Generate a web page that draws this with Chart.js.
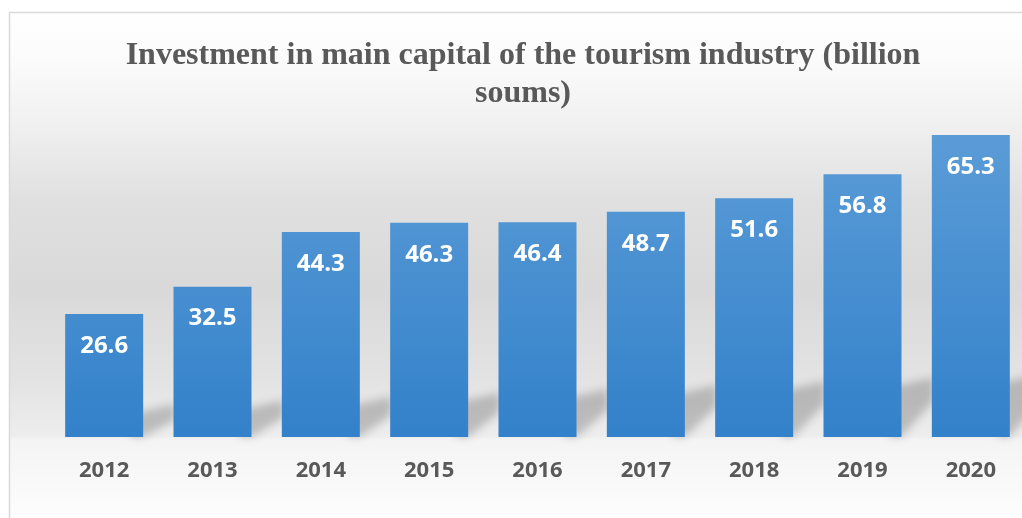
<!DOCTYPE html>
<html>
<head>
<meta charset="utf-8">
<script src="https://cdn.jsdelivr.net/npm/chart.js@4.4.1/dist/chart.umd.min.js"></script>
<style>
  html, body { margin: 0; padding: 0; overflow: hidden; background: #ffffff; }
  #wrap { width: 1040px; height: 518px; position: relative; }
</style>
</head>
<body>
<div id="wrap"><canvas id="c" width="1040" height="518"></canvas></div>
<script>
const years = ['2012', '2013', '2014', '2015', '2016', '2017', '2018', '2019', '2020'];
const investment = [26.6, 32.5, 44.3, 46.3, 46.4, 48.7, 51.6, 56.8, 65.3];
const titleLines = ['Investment in main capital of the tourism industry (billion', 'soums)'];

const backgroundPlugin = {
  id: 'bgPlugin',
  beforeDraw(chart) {
    const ctx = chart.ctx;
    ctx.save();
    ctx.fillStyle = '#ffffff';
    ctx.fillRect(0, 0, chart.width, chart.height);
    const g = ctx.createLinearGradient(0, 12, 0, 518);
    const stops = [[12, '#ffffff'], [60, '#fbfbfb'], [120, '#f1f1f1'], [200, '#e0e0e0'], [290, '#d9d9d9'], [380, '#e3e3e3'], [436, '#ededed'], [440, '#f4f4f4'], [518, '#fdfdfd']];
    stops.forEach(s => g.addColorStop((s[0] - 12) / (518 - 12), s[1]));
    ctx.fillStyle = g;
    ctx.fillRect(9, 12, chart.width, chart.height);
    ctx.strokeStyle = '#d9d9d9';
    ctx.lineWidth = 1.5;
    ctx.beginPath();
    ctx.moveTo(9.5, chart.height);
    ctx.lineTo(9.5, 12.5);
    ctx.lineTo(chart.width, 12.5);
    ctx.stroke();
    ctx.restore();
  },
  beforeDatasetsDraw(chart) {
    const ctx = chart.ctx;
    const meta = chart.getDatasetMeta(0);
    ctx.save();
    ctx.filter = 'blur(4px)';
    ctx.fillStyle = 'rgba(0,0,0,0.2)';
    meta.data.forEach(el => {
      const r = el.x + el.width / 2;
      const B = el.base;
      const t = 412 - (r - 143) * 0.035;
      const d = 17 + (r - 143) * 0.025;
      ctx.beginPath();
      ctx.moveTo(r - 12, B);
      ctx.lineTo(r - 12, t + 2);
      ctx.lineTo(r + 32, t - 8);
      ctx.lineTo(r + 32, B - d);
      ctx.lineTo(r, B);
      ctx.closePath();
      ctx.fill();
    });
    ctx.restore();
    meta.data.forEach(el => {
      const g = ctx.createLinearGradient(0, el.y, 0, el.base);
      g.addColorStop(0, '#5b9cd7');
      g.addColorStop(1, '#3381ca');
      el.options.backgroundColor = g;
    });
  },
  afterDatasetsDraw(chart) {
    const ctx = chart.ctx;
    const meta = chart.getDatasetMeta(0);
    ctx.save();
    ctx.fillStyle = '#ffffff';
    ctx.font = 'bold 24px "Open Sans"';
    ctx.textAlign = 'center';
    ctx.textBaseline = 'middle';
    meta.data.forEach((el, i) => {
      ctx.fillText(investment[i].toFixed(1), el.x, el.y + 32);
    });
    ctx.restore();
  }
};

new Chart(document.getElementById('c'), {
  type: 'bar',
  data: {
    labels: years,
    datasets: [{
      data: investment,
      backgroundColor: '#4a90d2',
      borderWidth: 0,
      barPercentage: 0.72,
      categoryPercentage: 1.0
    }]
  },
  options: {
    responsive: false,
    animation: false,
    layout: { padding: { left: 21, right: 15, top: 0, bottom: 0 } },
    plugins: {
      legend: { display: false },
      tooltip: { enabled: false },
      title: {
        display: true,
        text: titleLines,
        color: '#595959',
        font: { family: '"Liberation Serif", "Times New Roman", serif', size: 32, weight: 'bold', lineHeight: 1.19 },
        padding: { top: 37, bottom: 0 }
      }
    },
    scales: {
      x: {
        grid: { display: false },
        border: { display: false },
        ticks: {
          color: '#595959',
          font: { family: '"Open Sans", sans-serif', size: 22, weight: 'bold' },
          padding: 13,
          maxRotation: 0
        },
        afterFit(scale) { scale.height = 81; }
      },
      y: {
        min: 0,
        max: 70,
        grid: { display: false },
        border: { display: false },
        ticks: { display: false },
        afterFit(scale) { scale.width = 29; }
      }
    }
  },
  plugins: [backgroundPlugin]
});
</script>
</body>
</html>
